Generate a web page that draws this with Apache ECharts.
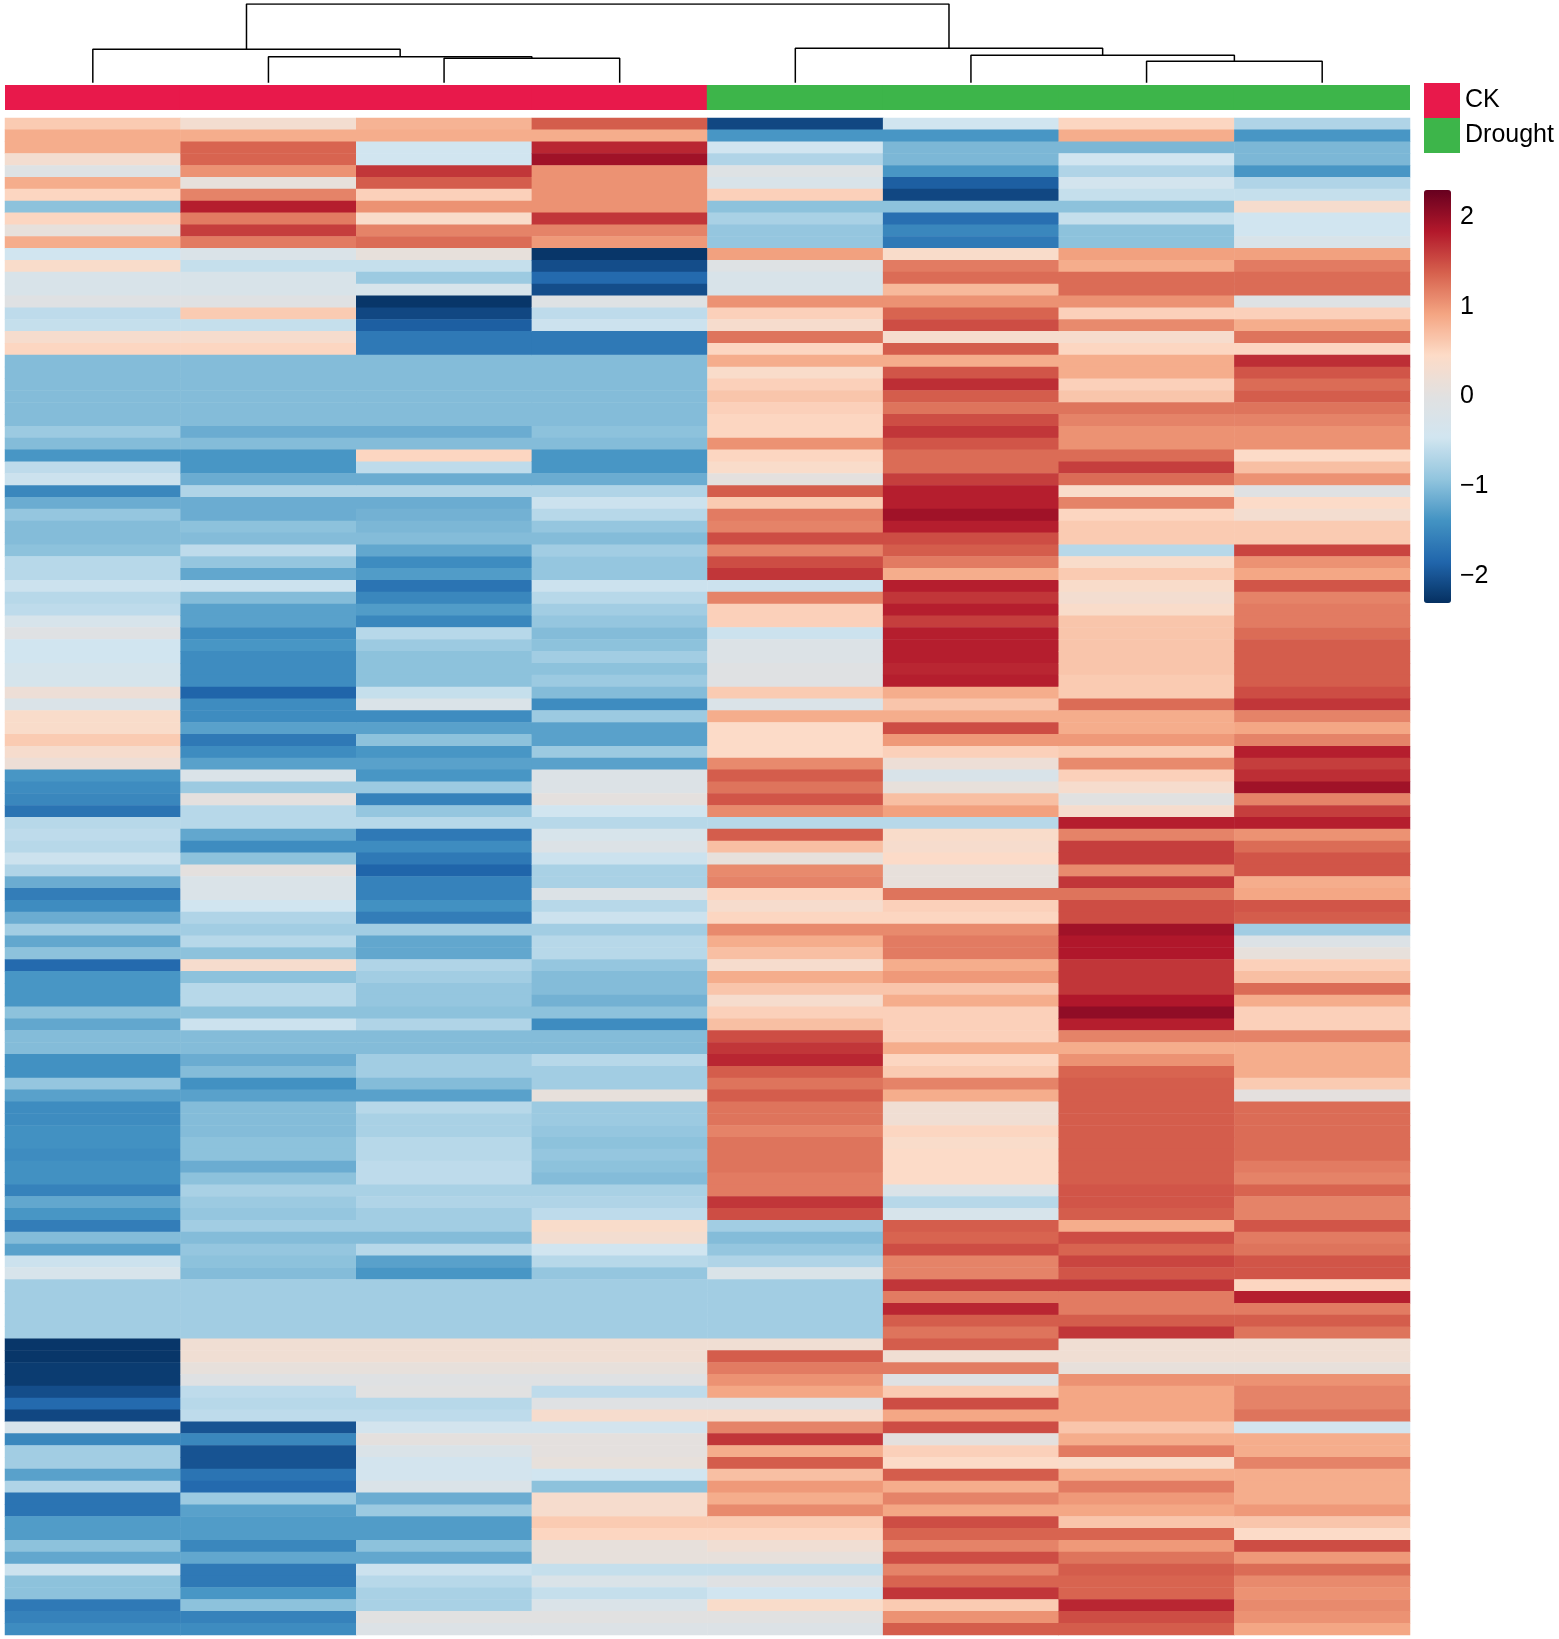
<!DOCTYPE html>
<html>
<head>
<meta charset="utf-8">
<script src="https://cdn.jsdelivr.net/npm/echarts@6/dist/echarts.min.js"></script>
<style>
  html, body { margin: 0; padding: 0; background: #fff; }
  #heatmapChart { width: 1559px; height: 1639px; }
</style>
</head>
<body>
<div id="heatmapChart"></div>
<script>
// scaled expression, one array per sample (rows top to bottom)
var ck1 = [
  0.6, 0.85, 0.85, 0.3, -0.1, 0.85, 0.5, -0.95, 0.5, 0.1,
  0.85, -0.45, 0.4, -0.25, -0.25, -0.05, -0.6, -0.55, 0.35, 0.5,
  -1.0, -1.0, -1.0, -1.0, -1.0, -1.0, -0.85, -1.0, -1.35, -0.6,
  -0.5, -1.5, -1.15, -0.9, -1.0, -1.0, -0.95, -0.65, -0.65, -0.5,
  -0.65, -0.6, -0.3, -0.05, -0.45, -0.45, -0.35, -0.35, 0.2, -0.2,
  0.4, 0.4, 0.6, 0.35, 0.2, -1.35, -1.45, -1.5, -1.7, -0.65,
  -0.6, -0.65, -0.5, -0.7, -1.15, -1.6, -1.45, -1.15, -0.8, -1.2,
  -0.95, -1.8, -1.35, -1.35, -1.35, -0.95, -1.2, -1.0, -1.0, -1.4,
  -1.4, -0.9, -1.25, -1.45, -1.45, -1.4, -1.4, -1.45, -1.4, -1.4,
  -1.55, -1.2, -1.35, -1.6, -1.0, -1.25, -0.5, -0.3, -0.8, -0.8,
  -0.8, -0.8, -0.8, -2.25, -2.25, -2.2, -2.2, -2.05, -1.8, -2.1,
  -0.3, -1.5, -0.8, -0.8, -1.25, -0.7, -1.7, -1.7, -1.3, -1.3,
  -0.95, -1.2, -0.5, -0.95, -0.95, -1.65, -1.55, -1.45
];
var ck2 = [
  0.3, 0.85, 1.35, 1.35, 1.05, 0.1, 1.15, 1.8, 1.2, 1.6,
  1.2, -0.2, -0.55, -0.25, -0.25, -0.05, 0.6, -0.55, 0.35, 0.5,
  -1.0, -1.0, -1.0, -1.0, -1.0, -1.0, -1.15, -1.0, -1.35, -1.35,
  -1.15, -0.7, -1.15, -1.15, -0.95, -1.0, -0.6, -0.9, -1.2, -0.5,
  -1.0, -1.25, -1.25, -1.45, -1.35, -1.45, -1.45, -1.45, -1.85, -1.45,
  -1.45, -1.25, -1.65, -1.45, -1.25, -0.2, -0.85, 0.05, -0.65, -0.65,
  -1.2, -1.45, -0.95, 0.05, -0.2, -0.2, -0.45, -0.7, -0.8, -0.65,
  -0.95, 0.35, -0.95, -0.65, -0.65, -0.95, -0.5, -1.0, -1.0, -1.15,
  -1.0, -1.4, -1.25, -1.0, -1.0, -1.0, -0.95, -0.95, -1.15, -0.95,
  -0.75, -0.85, -0.9, -0.8, -1.0, -0.9, -0.95, -1.0, -0.8, -0.8,
  -0.8, -0.8, -0.8, 0.25, 0.25, 0.1, -0.05, -0.6, -0.65, -0.6,
  -2.0, -1.5, -2.0, -2.0, -1.7, -1.8, -0.85, -1.25, -1.3, -1.3,
  -1.5, -1.2, -1.65, -1.65, -1.35, -0.95, -1.55, -1.45
];
var ck3 = [
  0.8, 0.85, -0.45, -0.45, 1.65, 1.4, 0.55, 1.05, 0.4, 1.15,
  1.3, 0.1, -0.55, -0.85, -0.3, -2.25, -2.1, -1.9, -1.65, -1.65,
  -1.0, -1.0, -1.0, -1.0, -1.0, -1.0, -1.15, -1.0, 0.5, -0.6,
  -1.15, -0.7, -1.15, -1.1, -1.05, -1.0, -1.2, -1.45, -1.3, -1.7,
  -1.5, -1.3, -1.5, -0.65, -0.85, -0.95, -0.95, -0.95, -0.55, -0.2,
  -1.45, -1.25, -0.95, -1.35, -1.25, -1.35, -0.85, -1.55, -0.9, -0.65,
  -1.65, -1.45, -1.65, -1.85, -1.55, -1.55, -1.4, -1.6, -0.8, -1.2,
  -1.2, -0.7, -0.8, -0.9, -0.9, -0.95, -0.7, -1.0, -1.0, -0.8,
  -0.8, -1.0, -1.25, -0.65, -0.75, -0.75, -0.65, -0.65, -0.6, -0.6,
  -0.75, -0.7, -0.8, -0.8, -1.0, -0.65, -1.25, -1.35, -0.8, -0.8,
  -0.8, -0.8, -0.8, 0.25, 0.25, 0.1, -0.05, 0.0, -0.65, -0.6,
  -0.4, 0.05, -0.2, -0.4, -0.4, -0.2, -1.15, -0.85, -1.3, -1.3,
  -0.95, -1.2, -0.5, -0.65, -0.75, -0.75, 0.0, -0.15
];
var ck4 = [
  1.4, 0.85, 1.75, 1.95, 1.05, 1.05, 1.05, 1.05, 1.65, 1.15,
  1.0, -2.25, -2.05, -1.8, -2.05, -0.1, -0.6, -0.5, -1.65, -1.65,
  -1.0, -1.0, -1.0, -1.0, -1.0, -1.0, -0.95, -1.0, -1.35, -1.35,
  -1.15, -0.7, -0.5, -0.65, -0.9, -1.0, -0.8, -0.9, -0.9, -0.5,
  -0.65, -0.8, -0.9, -1.0, -0.95, -0.8, -0.95, -0.85, -1.0, -1.45,
  -0.85, -1.25, -1.25, -0.85, -1.25, -0.15, -0.15, 0.05, -0.45, -0.65,
  -0.3, -0.15, -0.5, -0.75, -0.75, -0.15, -0.65, -0.5, -0.8, -0.65,
  -0.65, -0.9, -1.0, -1.0, -1.1, -0.95, -1.45, -1.0, -1.0, -0.65,
  -0.8, -0.8, 0.1, -0.85, -0.85, -0.9, -0.95, -0.9, -0.95, -1.0,
  -0.75, -0.7, -0.6, 0.4, 0.3, -0.45, -0.65, -0.9, -0.8, -0.8,
  -0.8, -0.8, -0.8, 0.25, 0.25, 0.1, -0.05, -0.6, -0.05, 0.35,
  -0.4, 0.05, 0.05, 0.1, -0.45, -0.95, 0.35, 0.35, 0.6, 0.5,
  0.1, 0.1, -0.55, -0.2, -0.55, -0.2, 0.0, -0.15
];
var dr1 = [
  -2.1, -1.35, -0.45, -0.7, -0.1, -0.25, 0.55, -0.95, -0.75, -0.9,
  -0.9, 0.95, -0.1, -0.25, -0.25, 1.05, 0.55, 0.35, 1.25, 0.5,
  0.85, 0.4, 0.55, 0.65, 0.55, 0.5, 0.5, 1.05, 0.5, 0.4,
  0.05, 1.4, 0.6, 1.2, 1.15, 1.5, 1.15, 1.5, 1.65, -0.5,
  1.15, 0.55, 0.55, -0.5, -0.15, -0.15, -0.05, -0.05, 0.6, -0.2,
  0.85, 0.45, 0.45, 0.45, 1.1, 1.4, 1.25, 1.45, 1.1, -0.65,
  1.4, 0.7, 0.1, 1.1, 1.15, 0.5, 0.35, 0.5, 1.1, 0.85,
  0.7, 0.35, 0.85, 0.65, 0.35, 0.55, 0.7, 1.5, 1.65, 1.75,
  1.4, 1.25, 1.4, 1.25, 1.25, 1.15, 1.25, 1.25, 1.25, 1.2,
  1.2, 1.65, 1.5, -0.8, -1.0, -0.9, -0.7, -0.2, -0.8, -0.8,
  -0.8, -0.8, -0.8, 0.25, 1.4, 1.2, 1.05, 0.9, -0.05, 0.35,
  1.15, 1.65, 0.85, 1.4, 0.7, 1.0, 0.85, 1.1, 0.6, 0.5,
  0.25, 0.1, -0.55, -0.05, -0.45, 0.4, 0.0, -0.15
];
var dr2 = [
  -0.45, -1.35, -1.05, -1.05, -1.35, -1.9, -2.1, -0.95, -1.75, -1.5,
  -1.65, 0.4, 1.2, 1.3, 0.75, 1.05, 1.35, 1.5, 0.35, 1.4,
  0.85, 1.45, 1.7, 1.4, 1.25, 1.5, 1.65, 1.45, 1.3, 1.3,
  1.6, 1.8, 1.8, 1.95, 1.8, 1.5, 1.4, 1.2, 0.85, 1.8,
  1.65, 1.8, 1.6, 1.8, 1.8, 1.8, 1.75, 1.8, 0.85, 0.65,
  0.85, 1.5, 1.0, 0.55, 0.2, -0.25, 0.1, 0.7, 0.95, -0.65,
  0.4, 0.35, 0.45, 0.1, 0.1, 1.25, 0.55, 0.5, 1.1, 1.2,
  1.2, 0.85, 1.0, 0.65, 0.85, 0.55, 0.55, 0.55, 0.85, 0.5,
  0.6, 1.15, 0.85, 0.25, 0.25, 0.5, 0.4, 0.45, 0.45, 0.45,
  -0.2, -0.65, -0.3, 1.4, 1.35, 1.5, 1.15, 1.15, 1.65, 1.2,
  1.75, 1.4, 1.25, 1.4, 0.25, 1.2, -0.05, 0.6, 1.5, 0.9,
  1.5, 0.05, 0.55, 0.45, 1.4, 0.85, 1.15, 0.9, 1.5, 1.35,
  1.15, 1.5, 1.15, 1.35, 1.65, 0.6, 1.05, 1.4
];
var dr3 = [
  0.5, 0.85, -1.05, -0.45, -0.7, -0.4, -0.55, -0.95, -0.55, -0.95,
  -0.95, 0.95, 0.85, 1.3, 1.3, 1.05, 0.55, 1.1, 0.35, 0.5,
  0.85, 0.85, 0.55, 0.65, 1.25, 1.15, 1.05, 1.05, 1.3, 1.6,
  1.3, 0.4, 1.15, 0.5, 0.6, 0.6, -0.65, 0.4, 0.6, 0.4,
  0.3, 0.4, 0.65, 0.65, 0.65, 0.65, 0.65, 0.6, 0.6, 1.3,
  0.85, 0.85, 1.0, 0.6, 1.1, 0.55, 0.35, 0.0, 0.35, 1.8,
  1.15, 1.6, 1.6, 1.1, 1.65, 1.25, 1.5, 1.5, 1.95, 1.85,
  1.85, 1.65, 1.65, 1.65, 1.85, 2.05, 1.8, 1.15, 0.85, 1.05,
  1.35, 1.4, 1.4, 1.4, 1.4, 1.4, 1.4, 1.4, 1.4, 1.4,
  1.45, 1.45, 1.4, 0.85, 1.5, 1.35, 1.55, 1.45, 1.65, 1.2,
  1.2, 1.4, 1.65, 0.25, 0.25, 0.1, 1.05, 0.9, 0.9, 0.9,
  0.65, 0.85, 1.2, 0.4, 0.85, 1.2, 1.0, 0.9, 0.65, 1.35,
  1.0, 1.25, 1.4, 1.35, 1.35, 1.75, 1.5, 1.4
];
var dr4 = [
  -0.7, -1.35, -1.05, -1.05, -1.35, -0.7, -0.55, 0.35, -0.45, -0.45,
  -0.25, 0.95, 1.2, 1.3, 1.3, -0.1, 0.55, 0.85, 1.25, 0.5,
  1.7, 1.45, 1.3, 1.4, 1.25, 1.15, 1.05, 1.05, 0.45, 0.7,
  1.05, -0.05, 0.45, 0.3, 0.6, 0.6, 1.55, 1.05, 0.9, 1.45,
  1.15, 1.2, 1.2, 1.3, 1.4, 1.4, 1.4, 1.4, 1.5, 1.65,
  1.15, 0.9, 1.15, 1.8, 1.6, 1.7, 1.95, 1.15, 1.6, 1.8,
  1.05, 1.3, 1.45, 1.45, 0.85, 0.9, 1.45, 1.4, -0.8, -0.15,
  0.1, 0.55, 0.7, 1.3, 0.85, 0.55, 0.55, 1.15, 0.85, 0.85,
  0.85, 0.6, 0.05, 1.3, 1.3, 1.3, 1.3, 1.3, 1.2, 1.15,
  1.35, 1.15, 1.15, 1.45, 1.2, 1.25, 1.45, 1.45, 0.5, 1.8,
  1.2, 1.4, 1.25, 0.25, 0.25, 0.1, 1.05, 1.15, 1.15, 1.25,
  -0.4, 0.85, 0.85, 1.15, 0.85, 0.85, 0.85, 1.0, 0.65, 0.45,
  1.5, 1.0, 1.3, 1.1, 1.05, 1.1, 1.05, 0.9
];

var sampleNames = ['CK1', 'CK2', 'CK3', 'CK4', 'Drought1', 'Drought2', 'Drought3', 'Drought4'];
var sampleGroup = ['CK', 'CK', 'CK', 'CK', 'Drought', 'Drought', 'Drought', 'Drought'];
var groupNames = ['CK', 'Drought'];
var colorTicks = [2, 1, 0, -1, -2];
// column tree, hclust style: negative = sample index (1-based), positive = merge row
var merges = [
  [-3, -4, 24.5],
  [-2, 1, 26.0],
  [-1, 2, 33.4],
  [-7, -8, 21.4],
  [-6, 4, 27.4],
  [-5, 5, 34.4],
  [3, 6, 78.7]
];

var groupColors = { 'CK': '#E8194B', 'Drought': '#3DB54A' };
var palette = ['#053061', '#2166AC', '#4393C3', '#92C5DE', '#D1E5F0', '#E1E1E1',
               '#FDDBC7', '#F4A582', '#D6604D', '#B2182B', '#67001F'];
var fontName = '"Liberation Sans", Arial, Helvetica, sans-serif';

function initHeatmapChart() {
    var columns = [ck1, ck2, ck3, ck4, dr1, dr2, dr3, dr4];
    var rowIds = [];
    for (var r = 0; r < ck1.length; r++) rowIds.push('g' + (r + 1));

    var cells = [];
    for (var c = 0; c < columns.length; c++) {
        for (var r = 0; r < columns[c].length; r++) {
            cells.push([c, r, columns[c][r]]);
        }
    }

    // dendrogram segments from merge table
    var pos = [], hgt = [];
    function nodeX(ref) { return ref < 0 ? -ref - 0.5 : pos[ref - 1]; }
    function nodeH(ref) { return ref < 0 ? 0 : hgt[ref - 1]; }
    var treeSeries = [];
    for (var m = 0; m < merges.length; m++) {
        var a = merges[m][0], b = merges[m][1], h = merges[m][2];
        var xa = nodeX(a), xb = nodeX(b);
        pos.push((xa + xb) / 2);
        hgt.push(h);
        treeSeries.push({
            type: 'line',
            xAxisIndex: 2,
            yAxisIndex: 2,
            data: [[xa, nodeH(a)], [xa, h], [xb, h], [xb, nodeH(b)]],
            symbol: 'none',
            silent: true,
            lineStyle: { color: '#000', width: 1.5 }
        });
    }

    // annotation row, one series per group so the legend picks them up
    // bars a bit wider than the band so no seams show between columns
    var groupSeries = groupNames.map(function (g) {
        return {
            name: g,
            type: 'bar',
            xAxisIndex: 1,
            yAxisIndex: 1,
            barWidth: 177,
            barGap: '-100%',
            silent: true,
            itemStyle: { color: groupColors[g] },
            data: sampleGroup.map(function (s) { return s === g ? 1 : '-'; })
        };
    });

    var chart = echarts.init(document.getElementById('heatmapChart'));
    chart.setOption({
        animation: false,
        backgroundColor: '#fff',
        textStyle: { fontFamily: fontName },
        grid: [
            { left: 5, top: 118, width: 1405, height: 1517 },
            { left: 5, top: 85, width: 1405, height: 25 },
            { left: 5, top: 4, width: 1405, height: 78.7 },
            { left: 1424, top: 190, width: 27, height: 413 }
        ],
        xAxis: [
            { type: 'category', gridIndex: 0, data: sampleNames, show: false },
            { type: 'category', gridIndex: 1, data: sampleNames, show: false },
            { type: 'value', gridIndex: 2, min: 0, max: 8, show: false },
            { type: 'value', gridIndex: 3, min: 0, max: 1, show: false }
        ],
        yAxis: [
            { type: 'category', gridIndex: 0, data: rowIds, inverse: true, show: false },
            { type: 'value', gridIndex: 1, min: 0, max: 1, show: false },
            { type: 'value', gridIndex: 2, min: 0, max: 78.7, show: false },
            {
                type: 'value', gridIndex: 3, min: -2.3, max: 2.3, position: 'right',
                axisLine: { show: false },
                axisTick: { show: false },
                splitLine: { show: false },
                axisLabel: {
                    customValues: colorTicks,
                    margin: 9,
                    fontSize: 25,
                    color: '#000',
                    fontFamily: fontName,
                    formatter: function (v) { return String(v).replace('-', '\u2212'); }
                }
            }
        ],
        visualMap: {
            type: 'continuous',
            seriesIndex: 0,
            min: -2.3,
            max: 2.3,
            calculable: false,
            orient: 'vertical',
            left: 1424,
            top: 190,
            itemWidth: 27,
            itemHeight: 413,
            padding: 0,
            text: null,
            showLabel: false,
            hoverLink: false,
            inRange: { color: palette }
        },
        legend: {
            data: groupNames,
            orient: 'vertical',
            left: 1424,
            top: 83,
            padding: 0,
            itemWidth: 36,
            itemHeight: 35,
            itemGap: 0,
            icon: 'rect',
            selectedMode: false,
            textStyle: { fontSize: 25, color: '#000', fontFamily: fontName }
        },
        series: [
            {
                type: 'heatmap',
                xAxisIndex: 0,
                yAxisIndex: 0,
                data: cells,
                silent: true,
                progressive: 0
            }
        ].concat(groupSeries).concat(treeSeries).concat([
            { type: 'scatter', xAxisIndex: 3, yAxisIndex: 3, data: [], silent: true }
        ])
    });
}

initHeatmapChart();
</script>
</body>
</html>
